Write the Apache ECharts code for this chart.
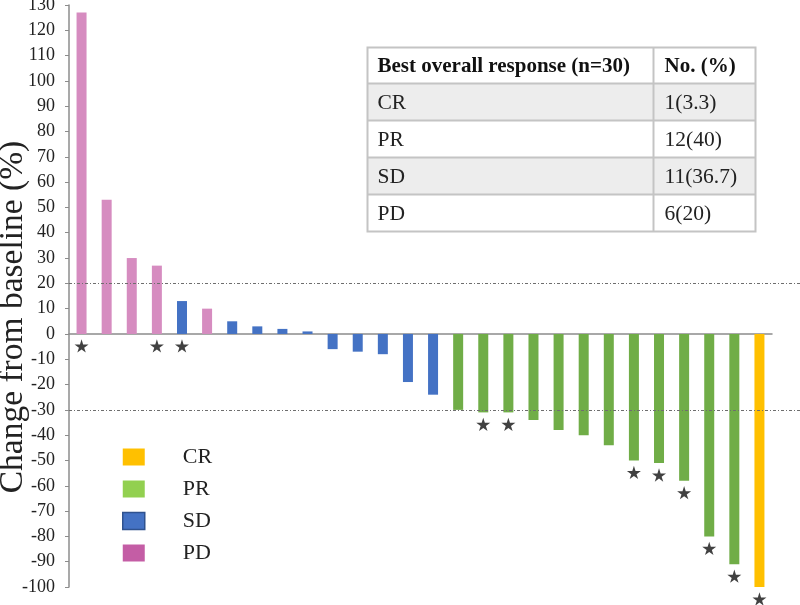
<!DOCTYPE html>
<html>
<head>
<meta charset="utf-8">
<script src="https://cdn.jsdelivr.net/npm/echarts@6/dist/echarts.min.js"></script>
<style>
  html, body { margin: 0; padding: 0; background: #fff; }
  #chart { width: 800px; height: 605px; }
</style>
</head>
<body>
<div id="chart"></div>
<script>
// best response of each patient, sorted (waterfall)
const values = [127, 53, 30, 27, 13, 10, 5, 3, 2, 1, -6, -7, -8, -19, -24,
  -30, -31, -31, -34, -38, -40, -44, -50, -51, -58, -80, -91, -100]
const groups = ['PD', 'PD', 'PD', 'PD', 'SD', 'PD', 'SD', 'SD', 'SD', 'SD', 'SD', 'SD', 'SD', 'SD', 'SD',
  'PR', 'PR', 'PR', 'PR', 'PR', 'PR', 'PR', 'PR', 'PR', 'PR', 'PR', 'PR', 'CR']
// patients marked with a star (index in values)
const starred = [0, 3, 4, 16, 17, 22, 23, 24, 25, 26, 27]
// reference lines
const thresholds = [20, -30]
// table
const tableHead = ['Best overall response (n=30)', 'No. (%)']
const tableRows = ['CR', 'PR', 'SD', 'PD']
const tableCounts = ['1(3.3)', '12(40)', '11(36.7)', '6(20)']

const FONT = '"Liberation Serif", "Times New Roman", serif'
const barColors = { CR: '#FFC000', PR: '#70AD47', SD: '#4472C4', PD: '#D68CC0' }
const legendColors = { CR: '#FFC000', PR: '#92D050', SD: '#4472C4', PD: '#C45DA5' }
const STAR = 'path://M50,0 L61,35 L98,35 L68,57 L79,91 L50,70 L21,91 L32,57 L2,35 L39,35 Z'

const cats = values.map((v, i) => 'P' + (i + 1))

const barSeries = tableRows.map(g => ({
  name: g,
  type: 'bar',
  barWidth: 10,
  barGap: '-100%',
  itemStyle: { color: barColors[g] },
  data: values.map((v, i) => groups[i] === g ? v : '-')
}))

// table built from the arrays above
const colW = [286, 102]
const headH = 36
const rowH = 37
const tableW = colW[0] + colW[1]
const tableH = headH + rowH * tableRows.length
const tableChildren = []
tableRows.forEach((r, i) => {
  const y = headH + i * rowH
  tableChildren.push({
    type: 'rect',
    shape: { x: 0, y: y, width: tableW, height: rowH },
    style: { fill: i % 2 === 0 ? '#EDEDED' : '#fff' }
  })
  tableChildren.push({
    type: 'text', x: 10, y: y + rowH / 2 + 1,
    style: { text: r, font: '21.5px ' + FONT, fill: '#222', verticalAlign: 'middle' }
  })
  tableChildren.push({
    type: 'text', x: colW[0] + 11, y: y + rowH / 2 + 1,
    style: { text: tableCounts[i], font: '21.5px ' + FONT, fill: '#222', verticalAlign: 'middle' }
  })
})
tableChildren.push({
  type: 'text', x: 10, y: headH / 2 + 1,
  style: { text: tableHead[0], font: 'bold 21px ' + FONT, fill: '#111', verticalAlign: 'middle' }
})
tableChildren.push({
  type: 'text', x: colW[0] + 11, y: headH / 2 + 1,
  style: { text: tableHead[1], font: 'bold 21px ' + FONT, fill: '#111', verticalAlign: 'middle' }
})
for (let i = 1; i <= tableRows.length; i++) {
  const y = headH + (i - 1) * rowH
  tableChildren.push({
    type: 'line', shape: { x1: 0, y1: y, x2: tableW, y2: y },
    style: { stroke: '#C4C4C4', lineWidth: 2 }
  })
}
tableChildren.push({
  type: 'line', shape: { x1: colW[0], y1: 0, x2: colW[0], y2: tableH },
  style: { stroke: '#C4C4C4', lineWidth: 2 }
})
tableChildren.push({
  type: 'rect', shape: { x: 0, y: 0, width: tableW, height: tableH },
  style: { fill: 'none', stroke: '#C4C4C4', lineWidth: 2 }
})

const chart = echarts.init(document.getElementById('chart'))
chart.setOption({
  animation: false,
  backgroundColor: '#fff',
  grid: [
    { left: 69, right: 28, top: 5, bottom: 18, outerBoundsMode: 'none' },
    { left: 69, right: 0, top: 5, bottom: 18, outerBoundsMode: 'none' }
  ],
  xAxis: [
    {
      type: 'category', data: cats, gridIndex: 0,
      axisLine: { onZero: true, lineStyle: { color: '#8C8C8C', width: 1.5 } },
      axisTick: { show: false }, axisLabel: { show: false }
    },
    { type: 'value', gridIndex: 1, min: 0, max: 1, show: false }
  ],
  yAxis: [
    {
      type: 'value', gridIndex: 0, min: -100, max: 130, interval: 10,
      name: 'Change from baseline (%)',
      nameLocation: 'middle',
      nameGap: 39,
      nameMoveOverlap: false,
      nameTextStyle: { fontFamily: FONT, fontSize: 33.5, color: '#222', padding: [0, 42, 0, 0] },
      axisLine: { show: true, lineStyle: { color: '#8C8C8C', width: 1.5 } },
      axisTick: { show: true, length: 4, lineStyle: { color: '#8C8C8C' } },
      axisLabel: { fontFamily: FONT, fontSize: 18, color: '#222', margin: 14 },
      splitLine: { show: false }
    },
    { type: 'value', gridIndex: 1, min: -100, max: 130, show: false }
  ],
  legend: {
    orient: 'vertical',
    left: 122,
    top: 446,
    padding: 0,
    itemWidth: 22,
    itemHeight: 17,
    itemGap: 10,
    icon: 'rect',
    textStyle: { fontFamily: FONT, fontSize: 22, color: '#222', padding: [0, 0, 0, 33] },
    data: tableRows.map(g => ({
      name: g,
      itemStyle: g === 'SD'
        ? { color: legendColors[g], borderColor: '#2F528F', borderWidth: 1.5 }
        : { color: legendColors[g] }
    }))
  },
  series: [
    ...barSeries,
    {
      name: 'star',
      type: 'scatter',
      symbol: STAR,
      symbolSize: 14,
      symbolKeepAspect: true,
      symbolOffset: [0, 12],
      itemStyle: { color: '#111' },
      data: starred.map(i => [i, Math.min(values[i], 0)]),
      z: 5
    },
    {
      name: 'thresholds',
      type: 'line',
      xAxisIndex: 1,
      yAxisIndex: 1,
      data: [],
      markLine: {
        silent: true,
        symbol: 'none',
        label: { show: false },
        lineStyle: { color: '#6E6E6E', width: 1, type: [3, 2, 1, 2] },
        data: thresholds.map(t => ({ yAxis: t }))
      }
    }
  ],
  graphic: [{
    type: 'group',
    left: 365,
    top: 45,
    children: tableChildren
  }]
})
</script>
</body>
</html>
